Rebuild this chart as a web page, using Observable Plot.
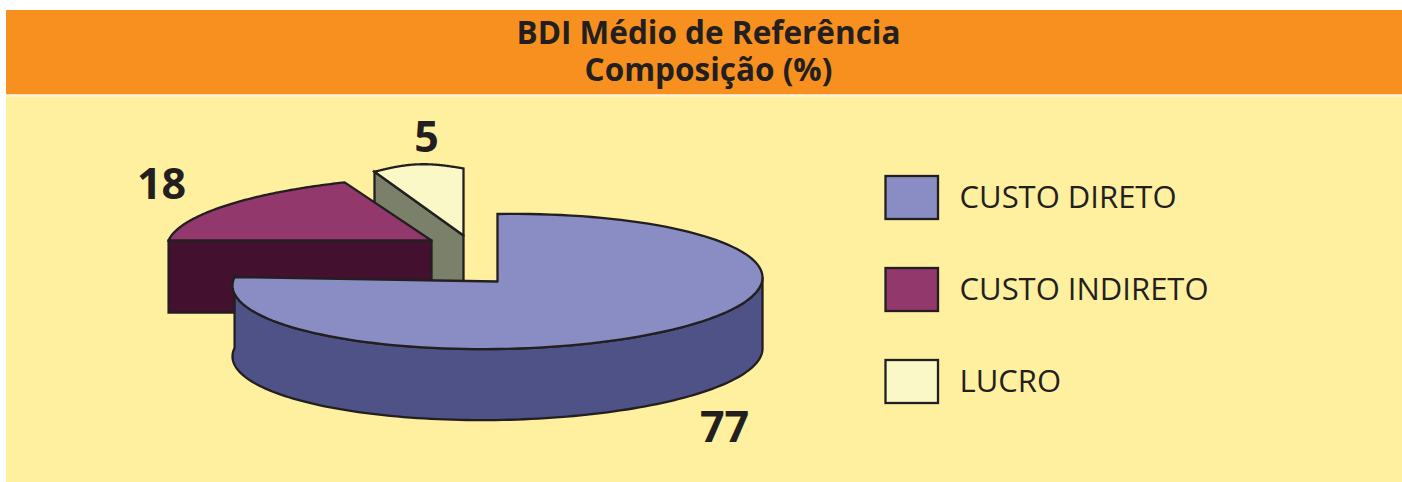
<!DOCTYPE html>
<html lang="pt">
<head>
<meta charset="utf-8">
<script src="https://cdn.jsdelivr.net/npm/d3@7"></script>
<script src="https://cdn.jsdelivr.net/npm/@observablehq/plot@0.6"></script>
<style>html,body{margin:0;padding:0;background:#fff;overflow:hidden}</style>
</head>
<body>
<div id="chart"></div>
<script>
const titleLines = ["BDI Médio de Referência", "Composição (%)"];
const categories = ["CUSTO DIRETO", "CUSTO INDIRETO", "LUCRO"];
const shares = [77, 18, 5];
const topColors = ["#8A8DC3", "#93386C", "#FBF8C8"];
const sideColors = ["#4E5286", "#43112F", "#7A8069"];

const W = 1402, H = 482, INK = "#231F20";
// Drawing geometry of each exploded wedge (apex, radii, tilt, extrusion, label place)
const wedgeLayout = [
  {ax: 497, ay: 281, rx: 265, ry: 67.5, tilt: -0.015, shear: 0, bulge: 0, depth: 71, lx: 724, ly: 428},
  {ax: 431, ay: 240, rx: 265, ry: 63.7, tilt: -0.0303, shear: 0.086, bulge: 0, depth: 72, lx: 161, ly: 185},
  {ax: 463, ay: 235, rx: 288, ry: 67, tilt: 0, shear: 0, bulge: 5, depth: 72, lx: 426, ly: 138}
];

const total = d3.sum(shares);
const bounds = d3.cumsum(shares).map(c => c / total * 2 * Math.PI);
const wedges = shares.map((v, i) => ({
  name: categories[i], value: v, shade: sideColors[i], ...wedgeLayout[i],
  a0: i ? bounds[i - 1] : 0, a1: bounds[i]
}));

function rim(w, a, drop = 0) {
  const t = (a - w.a0) / (w.a1 - w.a0);
  const dx = w.rx * Math.sin(a);
  const dy = -w.ry * Math.cos(a) + w.tilt * dx - w.bulge * Math.sin(Math.PI * t);
  return {x: w.ax + dx + w.shear * dy, y: w.ay + dy + drop};
}
const arc = (w, a, b, drop = 0) => d3.range(0, 121).map(k => rim(w, a + (b - a) * k / 120, drop));
const close = pts => [...pts, pts[0]];
const topFace = w => close([{x: w.ax, y: w.ay}, ...arc(w, w.a0, w.a1)]);
const cutFace = (w, a) => {
  const p = rim(w, a);
  return close([{x: w.ax, y: w.ay}, p, {x: p.x, y: p.y + w.depth}, {x: w.ax, y: w.ay + w.depth}]);
};
const rimFace = (w, a, b) => close([...arc(w, a, b), ...arc(w, b, a, w.depth)]);

const faceStyle = {x: "x", y: "y", stroke: INK, strokeWidth: 2.3,
  strokeLinejoin: "miter", strokeMiterlimit: 6};
const shadeFace = (pts, w) => Plot.line(pts, {...faceStyle, fill: w.shade});
const colorFace = (pts, w) => Plot.line(pts, {...faceStyle, fill: () => w.name});

const [direct, indirect, profit] = wedges;

const legendRows = categories.map((name, i) => ({name, top: 176 + i * 92, bottom: 219 + i * 92}));

const chart = Plot.plot({
  width: W, height: H, margin: 0,
  x: {domain: [0, W], range: [0, W], axis: null},
  y: {domain: [0, H], range: [0, H], axis: null},
  color: {domain: categories, range: topColors},
  style: {fontFamily: "'Open Sans', sans-serif", background: "#fff", overflow: "hidden"},
  marks: [
    // panel
    Plot.rect([0], {x1: 6, x2: W, y1: 10, y2: 94.5, fill: "#F7901E"}),
    Plot.rect([0], {x1: 6, x2: W, y1: 94.5, y2: 96.5, fill: "#FFF3D8"}),
    Plot.rect([0], {x1: 6, x2: W, y1: 96.5, y2: H, fill: "#FEF09F"}),
    Plot.text(titleLines, {
      x: 708, y: (d, i) => 33 + i * 37, text: d => d,
      fontSize: 31.5, fontWeight: 700, fill: INK, textAnchor: "middle"
    }),
    // LUCRO wedge (back)
    shadeFace(cutFace(profit, profit.a0), profit),
    colorFace(topFace(profit), profit),
    // CUSTO INDIRETO wedge
    shadeFace(cutFace(indirect, indirect.a0), indirect),
    colorFace(topFace(indirect), indirect),
    // CUSTO DIRETO wedge (front)
    shadeFace(rimFace(direct, Math.PI / 2, direct.a1), direct),
    colorFace(topFace(direct), direct),
    // value labels
    Plot.text(wedges, {
      x: "lx", y: "ly", text: d => String(d.value),
      fontSize: 43, fontWeight: 700, fill: INK, textAnchor: "middle"
    }),
    // legend
    Plot.rect(legendRows, {
      x1: () => 885.5, x2: () => 938, y1: "top", y2: "bottom",
      fill: "name", stroke: INK, strokeWidth: 2.3
    }),
    Plot.text(legendRows, {
      x: () => 959, y: d => (d.top + d.bottom) / 2, text: "name",
      fontSize: 31, fill: INK, textAnchor: "start"
    })
  ]
});
document.getElementById("chart").append(chart);
</script>
</body>
</html>
